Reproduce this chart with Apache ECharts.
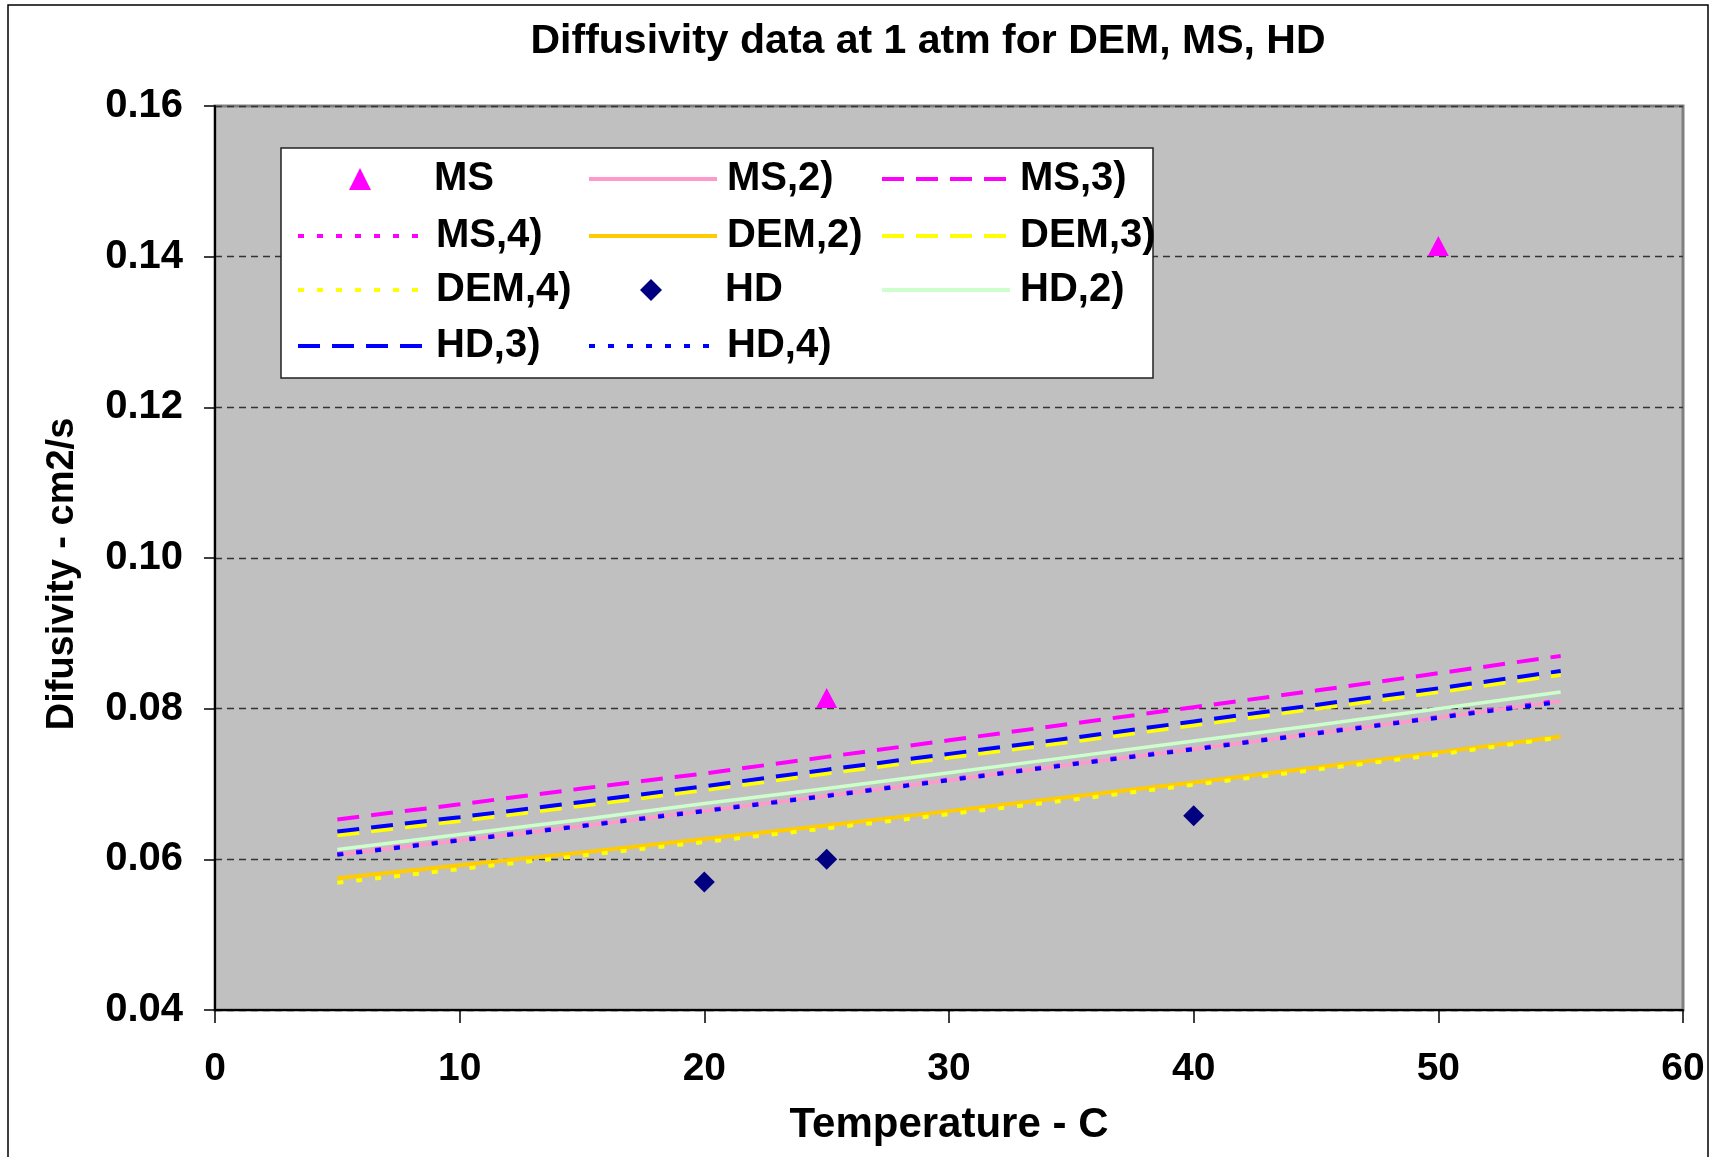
<!DOCTYPE html>
<html><head><meta charset="utf-8">
<script src="https://cdn.jsdelivr.net/npm/echarts@6/dist/echarts.min.js"></script>
<style>html,body{margin:0;padding:0;background:#fff}#c{width:1719px;height:1157px}</style>
</head><body><div id="c"></div>
<script>
// ---- data ----
const temps = [5, 10, 15, 20, 25, 30, 35, 40, 45, 50, 55];
const msObserved = [[25, 0.0814], [50, 0.1414]];
const hdObserved = [[20, 0.0570], [25, 0.0600], [40, 0.0658]];
const ms2 = [0.0606, 0.0625, 0.0644, 0.0664, 0.0684, 0.0705, 0.0726, 0.0746, 0.0767, 0.0788, 0.0810];
const ms3 = [0.0653, 0.0673, 0.0694, 0.0714, 0.0736, 0.0758, 0.0780, 0.0802, 0.0824, 0.0847, 0.0870];
const ms4 = [0.0607, 0.0626, 0.0645, 0.0665, 0.0685, 0.0706, 0.0727, 0.0747, 0.0768, 0.0789, 0.0811];
const dem2 = [0.0575, 0.0592, 0.0609, 0.0627, 0.0645, 0.0664, 0.0683, 0.0702, 0.0722, 0.0742, 0.0763];
const dem3 = [0.0632, 0.0651, 0.0671, 0.0692, 0.0714, 0.0735, 0.0756, 0.0778, 0.0800, 0.0822, 0.0845];
const dem4 = [0.0569, 0.0587, 0.0605, 0.0623, 0.0641, 0.0660, 0.0679, 0.0699, 0.0719, 0.0739, 0.0762];
const hd2 = [0.0613, 0.0633, 0.0653, 0.0674, 0.0694, 0.0715, 0.0736, 0.0757, 0.0778, 0.0800, 0.0822];
const hd3 = [0.0637, 0.0656, 0.0676, 0.0697, 0.0719, 0.0740, 0.0761, 0.0783, 0.0805, 0.0827, 0.0850];
const hd4 = [0.0606, 0.0625, 0.0644, 0.0664, 0.0684, 0.0705, 0.0726, 0.0746, 0.0767, 0.0788, 0.0809];
const xTicks = [0, 10, 20, 30, 40, 50, 60];
const yTicks = [0.04, 0.06, 0.08, 0.10, 0.12, 0.14, 0.16];
const yTickLabels = ['0.04', '0.06', '0.08', '0.10', '0.12', '0.14', '0.16'];
const titleText = 'Diffusivity data at 1 atm for DEM, MS, HD';
const xName = 'Temperature - C';
const yName = 'Difusivity - cm2/s';

// ---- styling ----
const FONT = "'Liberation Sans', Arial, sans-serif";
const pair = (ys) => temps.map((t, i) => [t, ys[i]]);
const DASH = [22, 12];
const DOT = [6, 13];

function lineSeries(name, ys, color, type, width) {
  return {
    name, type: 'line', data: pair(ys), symbol: 'none', showSymbol: false,
    smooth: false, animation: false,
    lineStyle: { color, width, type, cap: 'butt' }, itemStyle: { color }
  };
}

const series = [
  { name: 'MS', type: 'scatter', data: msObserved, symbol: 'triangle', symbolSize: [21, 20],
    itemStyle: { color: '#FF00FF', opacity: 1 }, animation: false, z: 5 },
  lineSeries('MS,2)', ms2, '#FF99CC', 'solid', 3.5),
  lineSeries('MS,3)', ms3, '#FF00FF', DASH, 4),
  lineSeries('MS,4)', ms4, '#FF00FF', DOT, 4),
  lineSeries('DEM,2)', dem2, '#FFCC00', 'solid', 4),
  lineSeries('DEM,3)', dem3, '#FFFF00', DASH, 4),
  lineSeries('DEM,4)', dem4, '#FFFF00', DOT, 4),
  { name: 'HD', type: 'scatter', data: hdObserved, symbol: 'diamond', symbolSize: 21,
    itemStyle: { color: '#000080', opacity: 1 }, animation: false, z: 5 },
  lineSeries('HD,2)', hd2, '#CCFFCC', 'solid', 3.5),
  lineSeries('HD,3)', hd3, '#0000FF', DASH, 4),
  lineSeries('HD,4)', hd4, '#0000FF', DOT, 4)
];

// legend layout: columns / rows
const cols = [296, 587, 880];
const rows = [179, 236, 290, 346];
const legendPlace = [
  ['MS', 0, 0, true], ['MS,2)', 1, 0], ['MS,3)', 2, 0],
  ['MS,4)', 0, 1], ['DEM,2)', 1, 1], ['DEM,3)', 2, 1],
  ['DEM,4)', 0, 2], ['HD', 1, 2, true], ['HD,2)', 2, 2],
  ['HD,3)', 0, 3], ['HD,4)', 1, 3]
];
const legendText = { fontFamily: FONT, fontWeight: 'bold', fontSize: 40, color: '#000', lineHeight: 44 };
const legends = legendPlace.map(([name, c, r, isScatter]) => {
  if (isScatter) {
    return {
      data: [name], left: cols[c] + 53, top: rows[r] - 22, padding: 0,
      itemWidth: 22, itemHeight: 22, selectedMode: false, z: 10,
      itemStyle: { opacity: 1 },
      textStyle: Object.assign({ padding: [0, 0, 0, 58] }, legendText)
    };
  }
  return {
    data: [name], left: cols[c], top: rows[r] - 22, padding: 0,
    itemWidth: 128, itemHeight: 14, selectedMode: false, z: 10,
    lineStyle: { width: 4 },
    itemStyle: { color: 'rgba(0,0,0,0)', borderColor: 'rgba(0,0,0,0)', borderWidth: 0, opacity: 0 },
    textStyle: Object.assign({ padding: [0, 0, 0, 5] }, legendText)
  };
});

const ctx = document.createElement('canvas').getContext('2d');
ctx.font = "bold 41px 'Liberation Sans', Arial, sans-serif";
const titleW = ctx.measureText(titleText).width;

const chart = echarts.init(document.getElementById('c'), null, { renderer: 'canvas' });
chart.setOption({
  animation: false,
  backgroundColor: '#ffffff',
  title: {
    text: titleText, left: 928 - titleW / 2, top: 21, padding: 0,
    textStyle: { fontFamily: FONT, fontWeight: 'bold', fontSize: 41, color: '#000' }
  },
  grid: {
    left: 215, right: 36, top: 106, bottom: 147, show: true,
    backgroundColor: '#C0C0C0', borderColor: '#808080', borderWidth: 3, containLabel: false
  },
  legend: legends,
  graphic: [
    { type: 'rect', shape: { x: 8, y: 5, width: 1700, height: 1165 },
      style: { fill: 'none', stroke: '#000', lineWidth: 1.5 }, z: -1, silent: true },
    { type: 'rect', shape: { x: 281, y: 148, width: 872, height: 230 },
      style: { fill: '#ffffff', stroke: '#222', lineWidth: 1.5 }, z: 3, silent: true }
  ],
  xAxis: {
    type: 'value', min: xTicks[0], max: xTicks[xTicks.length - 1], interval: xTicks[1] - xTicks[0],
    name: xName, nameLocation: 'middle', nameGap: 94,
    nameTextStyle: { fontFamily: FONT, fontWeight: 'bold', fontSize: 42, color: '#000' },
    axisLine: { show: true, onZero: false, lineStyle: { color: '#000', width: 2 } },
    axisTick: { show: true, inside: false, length: 13, lineStyle: { color: '#000', width: 1.5 } },
    axisLabel: { margin: 40, fontFamily: FONT, fontWeight: 'bold', fontSize: 39, color: '#000' },
    splitLine: { show: false }
  },
  yAxis: {
    type: 'value', min: yTicks[0], max: yTicks[yTicks.length - 1], interval: 0.02,
    name: yName, nameLocation: 'middle', nameGap: 133,
    nameTextStyle: { fontFamily: FONT, fontWeight: 'bold', fontSize: 38, color: '#000', padding: [0, 32, 0, 0] },
    axisLine: { show: true, onZero: false, lineStyle: { color: '#000', width: 2 } },
    axisTick: { show: true, inside: false, length: 11, lineStyle: { color: '#000', width: 1.5 } },
    axisLabel: {
      margin: 32, fontFamily: FONT, fontWeight: 'bold', fontSize: 40, color: '#000',
      formatter: (v) => { const i = yTicks.findIndex(t => Math.abs(t - v) < 1e-9); return i >= 0 ? yTickLabels[i] : ''; }
    },
    splitLine: { show: true, lineStyle: { color: '#333', width: 1.3, type: [7, 5] } }
  },
  series
});
</script></body></html>
